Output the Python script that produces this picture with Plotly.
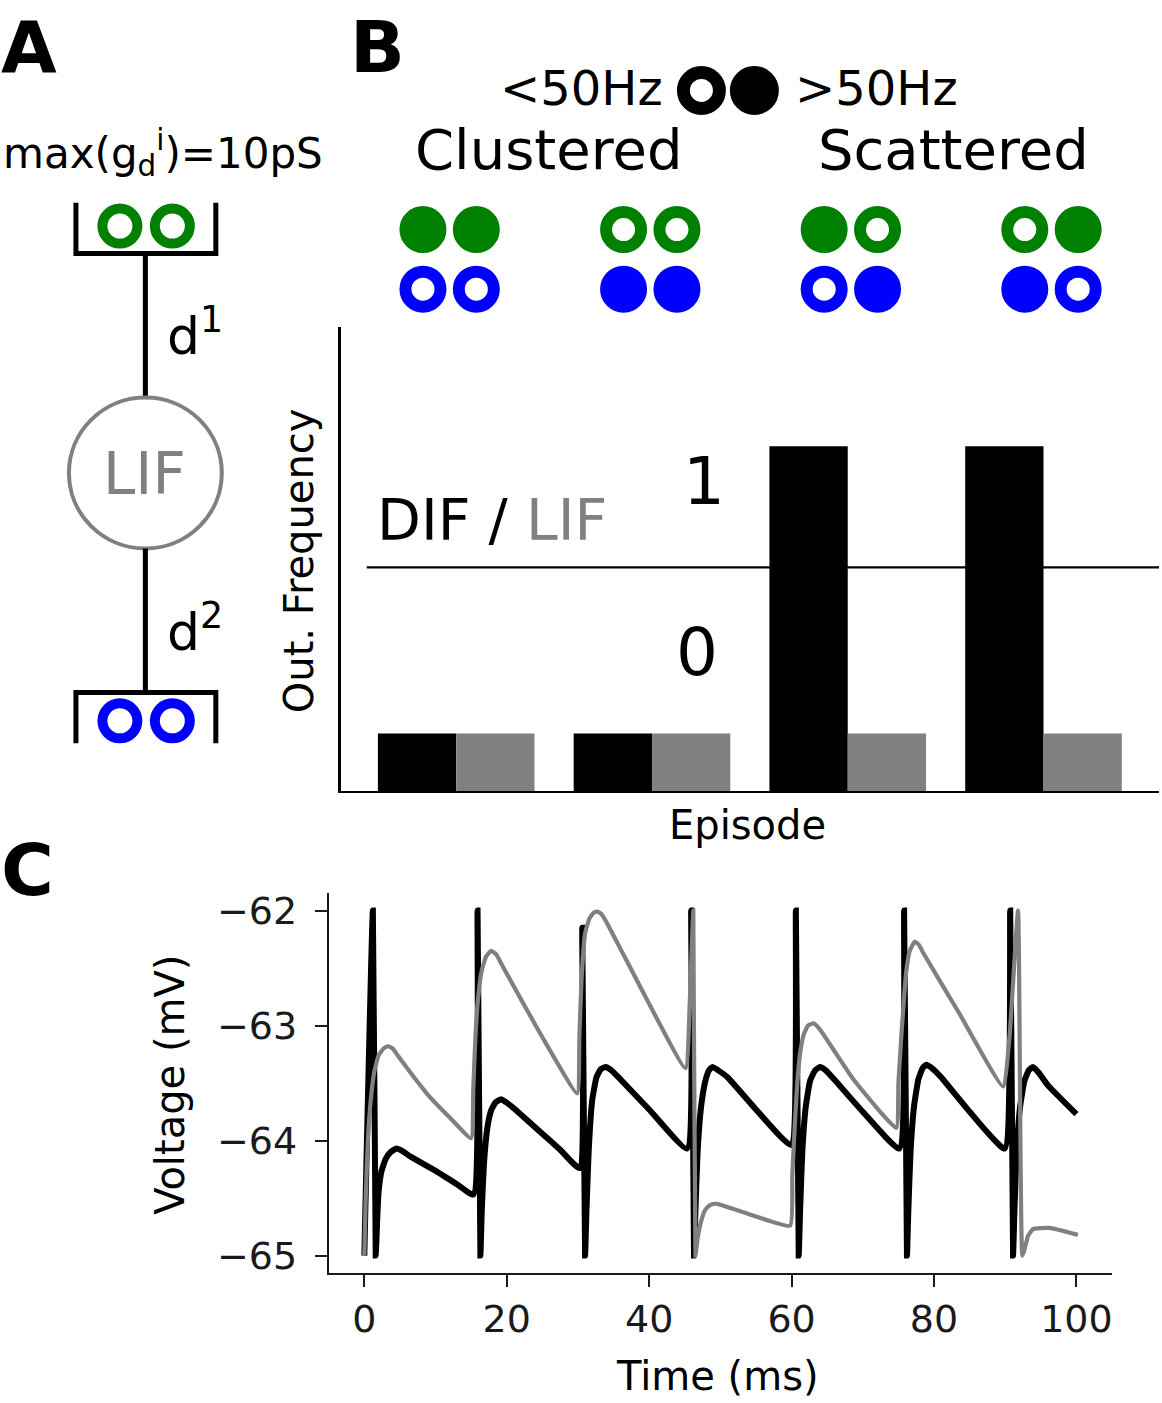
import plotly.graph_objects as go

W, H = 1162, 1403
FONT = "DejaVu Sans"
GRAY = "#808080"
GREEN = "#008000"
BLUE = "#0000ff"

# ---------------- data ----------------
episode_idx = [0, 1, 2, 3]
dif_freq = [10, 10, 60, 60]          # DIF output frequency per episode
lif_freq = [10, 10, 10, 10]          # LIF output frequency per episode
green_high = [[1, 1], [0, 0], [1, 0], [0, 1]]   # 1 = >50Hz (filled)
blue_high = [[0, 0], [1, 1], [0, 1], [1, 0]]
group_names = ["Clustered", "Scattered"]

dif_t = [0.0, 1.2, 1.6, 1.8, 2.0, 2.4, 3.0, 3.7, 4.5, 5.3, 6.5, 9.9, 13.0, 15.3,
         15.9, 16.3, 16.5, 16.8, 17.3, 17.8, 18.4, 19.2, 20.0, 21.0, 24.8, 27.5, 30.2,
         30.6, 31.0, 31.2, 31.5, 32.0, 32.6, 33.2, 33.9, 34.7, 36.0, 40.0, 45.3,
         45.9, 46.3, 46.5, 46.8, 47.3, 47.9, 48.4, 48.9, 49.7, 51.0, 55.0, 59.9,
         60.6, 61.0, 61.2, 61.5, 62.0, 62.6, 63.3, 64.0, 64.8, 66.0, 70.0, 75.1,
         75.8, 76.2, 76.4, 76.7, 77.2, 77.8, 78.4, 78.9, 79.7, 81.0, 85.0, 89.9,
         90.7, 91.1, 91.3, 91.6, 92.1, 92.7, 93.3, 93.9, 94.7, 96.0, 100.0]
dif_v = [-65.0, -62.0, -65.0, -64.7, -64.45, -64.27, -64.16, -64.10, -64.07, -64.09, -64.14, -64.26, -64.38, -64.47,
         -62.0, -65.0, -64.6, -64.2, -63.88, -63.74, -63.67, -63.64, -63.67, -63.72, -63.93, -64.08, -64.24,
         -62.15, -65.0, -64.6, -64.1, -63.65, -63.45, -63.38, -63.36, -63.39, -63.47, -63.73, -64.07,
         -62.0, -65.0, -64.6, -64.1, -63.7, -63.48, -63.39, -63.36, -63.39, -63.45, -63.73, -64.04,
         -62.0, -65.0, -64.6, -64.1, -63.7, -63.48, -63.39, -63.36, -63.39, -63.47, -63.75, -64.07,
         -62.0, -65.0, -64.6, -64.1, -63.7, -63.47, -63.37, -63.34, -63.37, -63.45, -63.75, -64.07,
         -62.0, -65.0, -64.6, -64.1, -63.7, -63.48, -63.39, -63.36, -63.41, -63.52, -63.77]

lif_t = [0.0, 0.2, 0.5, 0.9, 1.4, 2.0, 2.7, 3.3, 4.0, 4.8, 8.9, 12.0, 15.0,
         15.3, 15.6, 16.0, 16.5, 17.1, 17.8, 18.5, 19.3, 24.8, 29.9,
         30.2, 30.5, 31.0, 31.6, 32.2, 32.7, 33.3, 34.0, 38.8, 45.1,
         45.7, 46.2, 46.5, 46.8, 47.3, 47.9, 48.6, 49.5, 55.0, 59.8,
         60.1, 60.5, 60.8, 61.2, 61.7, 62.3, 63.1, 63.8, 64.5, 68.7, 74.7,
         75.0, 75.4, 75.8, 76.1, 76.6, 77.3, 77.9, 78.5, 83.6, 89.7,
         90.6, 91.8, 92.4, 92.7, 93.2, 93.9, 96.2, 100.2]
lif_v = [-65.0, -64.5, -64.0, -63.65, -63.4, -63.26, -63.2, -63.18, -63.2, -63.27, -63.60, -63.80, -63.98,
         -63.55, -63.1, -62.75, -62.52, -62.4, -62.35, -62.38, -62.47, -63.08, -63.59,
         -63.1, -62.6, -62.2, -62.07, -62.02, -62.01, -62.03, -62.1, -62.67, -63.37,
         -62.8, -62.0, -65.0, -64.85, -64.7, -64.6, -64.56, -64.55, -64.66, -64.74,
         -64.3, -63.81, -63.5, -63.24, -63.08, -63.0, -62.98, -63.02, -63.08, -63.47, -63.89,
         -63.5, -63.10, -62.75, -62.53, -62.35, -62.27, -62.3, -62.37, -62.90, -63.53,
         -63.1, -62.0, -65.0, -64.95, -64.83, -64.77, -64.76, -64.82]

time_ticks = [0, 20, 40, 60, 80, 100]
volt_ticks = [-65, -64, -63, -62]
volt_ticktext = ["\u221265", "\u221264", "\u221263", "\u221262"]


def px(x):
    return x / W


def py(y):
    return 1 - y / H


fig = go.Figure()

# ---------------- Panel B: bars ----------------
fig.add_trace(go.Bar(x=[i - 0.2 for i in episode_idx], y=dif_freq, width=0.4,
                     marker=dict(color="black", line=dict(width=0)),
                     xaxis="x", yaxis="y", hoverinfo="skip"))
fig.add_trace(go.Bar(x=[i + 0.2 for i in episode_idx], y=lif_freq, width=0.4,
                     marker=dict(color=GRAY, line=dict(width=0)),
                     xaxis="x", yaxis="y", hoverinfo="skip"))
# threshold line
fig.add_trace(go.Scatter(x=[-0.457, 3.59], y=[38.9, 38.9], mode="lines",
                         line=dict(color="black", width=2.2),
                         xaxis="x", yaxis="y", hoverinfo="skip", cliponaxis=False))

# ---------------- Panel B: input-rate circles ----------------
OFF = 0.133
for row_y, states, col in [(1, green_high, GREEN), (0, blue_high, BLUE)]:
    xs, fills = [], []
    for i, pair in zip(episode_idx, states):
        for j, s in enumerate(pair):
            xs.append(i + (j - 0.5) * 2 * OFF)
            fills.append(col if s else "white")
    fig.add_trace(go.Scatter(x=xs, y=[row_y] * len(xs), mode="markers",
                             marker=dict(size=35, color=fills, line=dict(color=col, width=12)),
                             xaxis="x2", yaxis="y2", hoverinfo="skip", cliponaxis=False))
# legend circles (open = <50Hz, filled = >50Hz)
fig.add_trace(go.Scatter(x=[1.255, 1.519], y=[3.333, 3.333], mode="markers",
                         marker=dict(size=36, color=["white", "black"],
                                     line=dict(color="black", width=13)),
                         xaxis="x2", yaxis="y2", hoverinfo="skip", cliponaxis=False))

# ---------------- Panel A: schematic ----------------
fig.add_trace(go.Scatter(x=[120, 172.5], y=[223.5, 223.5], mode="markers",
                         marker=dict(size=35, color="white", line=dict(color=GREEN, width=10)),
                         xaxis="x3", yaxis="y3", hoverinfo="skip", cliponaxis=False))
fig.add_trace(go.Scatter(x=[120, 172.5], y=[721.5, 721.5], mode="markers",
                         marker=dict(size=35, color="white", line=dict(color=BLUE, width=10)),
                         xaxis="x3", yaxis="y3", hoverinfo="skip", cliponaxis=False))

shapes = [
    dict(type="path", path="M 76,200 L 76,251 L 216,251 L 216,200", xref="x3", yref="y3",
         line=dict(color="black", width=5)),
    dict(type="line", x0=145.5, x1=145.5, y0=251, y1=396, xref="x3", yref="y3",
         line=dict(color="black", width=5)),
    dict(type="circle", x0=69, x1=222, y0=396, y1=548, xref="x3", yref="y3",
         line=dict(color=GRAY, width=4)),
    dict(type="line", x0=145.5, x1=145.5, y0=548, y1=693, xref="x3", yref="y3",
         line=dict(color="black", width=5)),
    dict(type="path", path="M 76,744 L 76,693 L 216,693 L 216,744", xref="x3", yref="y3",
         line=dict(color="black", width=5)),
]

# ---------------- Panel C: voltage traces ----------------
fig.add_trace(go.Scatter(x=dif_t, y=dif_v, mode="lines",
                         line=dict(color="black", width=6, shape="spline", smoothing=0.4),
                         xaxis="x4", yaxis="y4", hoverinfo="skip"))
fig.add_trace(go.Scatter(x=lif_t, y=lif_v, mode="lines",
                         line=dict(color=GRAY, width=4.2, shape="spline", smoothing=0.4),
                         xaxis="x4", yaxis="y4", hoverinfo="skip"))

# ---------------- annotations ----------------
def ann(text, x, y, size, xanchor="center", color="black", angle=0, yanchor="middle"):
    return dict(text=text, x=px(x), y=py(y), xref="paper", yref="paper",
                xanchor=xanchor, yanchor=yanchor, showarrow=False, textangle=angle,
                borderpad=0, font=dict(family=FONT, size=size, color=color))


annotations = [
    ann("<b>A</b>", 0, 0, 72, "left", yanchor="top"),
    ann("<b>B</b>", 349, 0, 72, "left", yanchor="top"),
    ann("<b>C</b>", 0, 872, 72, "left"),
    ann("max(g<sub>d</sub><sup>i</sup>)=10pS", 2, 150, 42, "left"),
    ann("d<sup>1</sup>", 166, 330, 52, "left"),
    ann("d<sup>2</sup>", 166, 628, 52, "left"),
    ann("LIF", 145, 473, 58, "center", GRAY),
    ann("&lt;50Hz", 665, 85, 48, "right"),
    ann("&gt;50Hz", 795, 85, 48, "left"),
    ann(group_names[0], 549, 146, 56),
    ann(group_names[1], 954, 146, 56),
    ann("DIF / <span style='color:%s'>LIF</span>" % GRAY, 376, 519, 57, "left"),
    ann("1", 705, 481, 66),
    ann("0", 698, 653, 66),
    ann("Out. Frequency", 300, 560, 40, angle=-90),
    ann("Episode", 748, 826, 40),
    ann("Voltage (mV)", 170, 1088, 40, angle=-90),
    ann("Time (ms)", 718, 1381, 40),
]

hidden = dict(visible=False, showgrid=False, zeroline=False)

fig.update_layout(
    width=W, height=H,
    margin=dict(l=0, r=0, t=0, b=0),
    paper_bgcolor="white", plot_bgcolor="white",
    showlegend=False, barmode="overlay",
    font=dict(family=FONT, color="black"),
    xaxis=dict(domain=[px(341), px(1160)], range=[-0.59, 3.59], anchor="y",
               showline=True, linecolor="black", linewidth=2.5, ticks="",
               showticklabels=False, showgrid=False, zeroline=False),
    yaxis=dict(domain=[py(792), py(325)], range=[0, 80.75], anchor="x",
               showline=True, linecolor="black", linewidth=2.5, ticks="",
               showticklabels=False, showgrid=False, zeroline=False),
    xaxis2=dict(domain=[px(341), px(1160)], range=[-0.543, 3.536], anchor="y2", **hidden),
    yaxis2=dict(domain=[py(320), py(40)], range=[-0.55, 4.117], anchor="x2", **hidden),
    xaxis3=dict(domain=[0, px(340)], range=[0, 340], anchor="y3", **hidden),
    yaxis3=dict(domain=[py(800), 1], range=[800, 0], anchor="x3", **hidden),
    xaxis4=dict(domain=[px(329), px(1113)], range=[-5, 105], anchor="y4",
                showline=True, linecolor="#1a1a1a", linewidth=2, ticks="outside",
                ticklen=12, tickwidth=2, tickcolor="#1a1a1a",
                tickvals=time_ticks, ticktext=[str(t) for t in time_ticks],
                tickfont=dict(family=FONT, size=38, color="#1a1a1a"),
                showgrid=False, zeroline=False),
    yaxis4=dict(domain=[py(1277), py(895)], range=[-65.15, -61.85], anchor="x4",
                showline=True, linecolor="#1a1a1a", linewidth=2, ticks="outside",
                ticklen=12, tickwidth=2, tickcolor="#1a1a1a", ticklabelstandoff=10,
                tickvals=volt_ticks, ticktext=volt_ticktext,
                tickfont=dict(family=FONT, size=38, color="#1a1a1a"),
                showgrid=False, zeroline=False),
    shapes=shapes,
    annotations=annotations,
)

fig.write_html("out.html", config={"displayModeBar": False, "staticPlot": True},
               post_script="document.body.style.margin='0px';")
